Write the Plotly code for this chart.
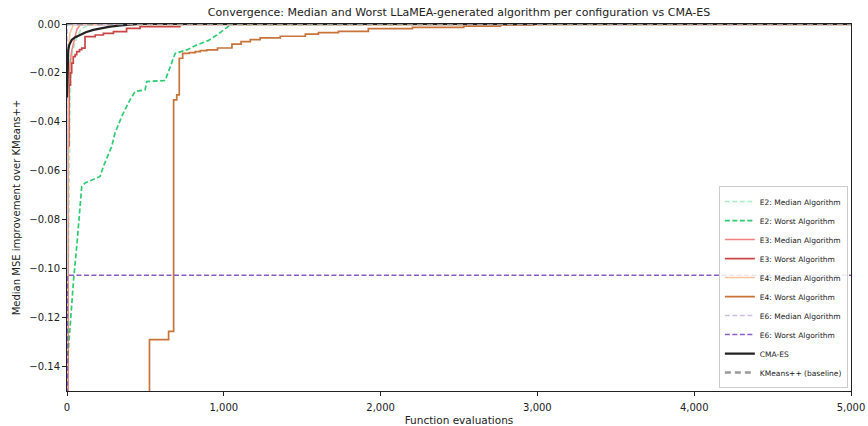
import plotly.graph_objects as go

# ---- data (function evaluations, median MSE improvement over KMeans++) ----
e2_med_x = [0, 5, 12, 20, 30, 45, 62, 90, 150, 5000]
e2_med_y = [-0.16, -0.135, -0.08, -0.03, -0.0133, -0.009, -0.0058, -0.002, 0.0, 0.0]

e2_worst_x = [0, 2, 10, 25, 42, 62, 80, 94, 115, 211, 232, 285, 306, 349, 402, 434, 498, 509,
              626, 658, 690, 764, 828, 900, 956, 1041, 5000]
e2_worst_y = [-0.16, -0.140, -0.132, -0.118, -0.1045, -0.091, -0.075, -0.0664, -0.065, -0.0623,
              -0.0582, -0.0501, -0.0446, -0.0378, -0.031, -0.0276, -0.0269, -0.0235,
              -0.0231, -0.0174, -0.012, -0.0106, -0.0086, -0.0068, -0.0045, -0.0004, 0.0]

e3_med_x = [0, 5, 12, 19, 30, 40, 51, 65, 83, 120, 5000]
e3_med_y = [-0.16, -0.06, -0.03, -0.016, -0.011, -0.008, -0.0052, -0.002, -0.0004, 0.0, 0.0]

e3_worst_x = [0, 5, 12, 22, 30, 40, 52, 62, 80, 94, 115, 180, 232, 296, 380, 466, 720]
e3_worst_y = [-0.16, -0.05, -0.025, -0.02, -0.016, -0.0133, -0.0125, -0.0113, -0.0105, -0.0099,
              -0.0052, -0.0045, -0.0038, -0.0031, -0.0018, -0.0011, -0.0008]

e4_med_x = [0, 3, 8, 19, 30, 40, 5000]
e4_med_y = [-0.16, -0.06, -0.012, -0.0038, -0.0015, -0.0004, -0.0004]

e4_worst_x = [0, 526, 648, 680, 700, 716, 738, 780, 818, 850, 892, 960, 1052, 1110, 1169, 1232,
              1360, 1520, 1603, 1731, 1922, 2203, 2530, 2765, 2976, 5000]
e4_worst_y = [-0.20, -0.129, -0.1256, -0.031, -0.029, -0.014, -0.012, -0.0117, -0.0113,
              -0.0109, -0.0106, -0.0098, -0.0082, -0.0072, -0.0064, -0.0057, -0.005, -0.0041,
              -0.0035, -0.003, -0.0019, -0.0014, -0.0009, -0.0005, -0.0001, -0.0001]

e6_med_x = [0, 2, 5000]
e6_med_y = [-0.20, -0.0002, 0.0]

e6_worst_x = [0, 1, 5000]
e6_worst_y = [-0.20, -0.1027, -0.1027]

cma_x = [0, 3, 8, 15, 30, 50, 83, 120, 168, 220, 275, 330, 381, 450, 5000]
cma_y = [-0.030, -0.018, -0.0106, -0.0085, -0.0065, -0.0055, -0.0045, -0.0034, -0.0024,
         -0.0017, -0.0011, -0.0007, -0.0004, 0.0, 0.0]

base_x = [0, 5000]
base_y = [0.0, 0.0]

x_ticks = [0, 1000, 2000, 3000, 4000, 5000]
y_ticks = [-0.14, -0.12, -0.10, -0.08, -0.06, -0.04, -0.02, 0.00]

FONT = "DejaVu Sans"
DASH = "5px,2.5px"

fig = go.Figure()

def add(name, x, y, color, dash="solid", width=1.6, shape="linear"):
    fig.add_trace(go.Scatter(x=x, y=y, mode="lines", name=name,
                             line=dict(color=color, dash=dash, width=width, shape=shape)))

add("E2: Median Algorithm", e2_med_x, e2_med_y, "#abebc6", dash=DASH, width=1.5)
add("E2: Worst Algorithm", e2_worst_x, e2_worst_y, "#2ecc71", dash=DASH, width=1.7)
add("E3: Median Algorithm", e3_med_x, e3_med_y, "#f1827e", width=1.5)
add("E3: Worst Algorithm", e3_worst_x, e3_worst_y, "#c94444", width=1.7, shape="hv")
add("E4: Median Algorithm", e4_med_x, e4_med_y, "#f8c39a", width=1.6)
add("E4: Worst Algorithm", e4_worst_x, e4_worst_y, "#c8733a", width=1.7, shape="hv")
add("E6: Median Algorithm", e6_med_x, e6_med_y, "#cfc0ea", dash=DASH, width=1.5, shape="hv")
add("E6: Worst Algorithm", e6_worst_x, e6_worst_y, "#8a5cc6", dash=DASH, width=1.6, shape="hv")
add("CMA-ES", cma_x, cma_y, "#222222", width=2.2)
add("KMeans++ (baseline)", base_x, base_y, "#999999", dash="6px,4px", width=2.6)

axis_common = dict(showgrid=False, zeroline=False, showline=True, linecolor="#222",
                   linewidth=1, mirror=True, ticks="outside", ticklen=4, tickcolor="#222",
                   automargin=False,
                   tickfont=dict(family=FONT, size=10, color="#222"))

fig.update_layout(
    width=868, height=426,
    margin=dict(l=67, r=17, t=24, b=35),
    paper_bgcolor="white", plot_bgcolor="white",
    font=dict(family=FONT, size=10, color="#222"),
    title=dict(text="Convergence: Median and Worst LLaMEA-generated algorithm per configuration vs CMA-ES",
               x=(67 + 851) / 2 / 868, xanchor="center", y=1 - 12 / 426, yanchor="middle",
               font=dict(family=FONT, size=11, color="#222")),
    xaxis=dict(range=[0, 5000], tickvals=x_ticks, tickformat=",", ticklabelstandoff=3,
               title=dict(text="Function evaluations", standoff=4,
                          font=dict(family=FONT, size=10.5, color="#222")),
               **axis_common),
    yaxis=dict(range=[-0.15, 0.0], tickvals=y_ticks, tickformat=".2f",
               title=dict(text="Median MSE improvement over KMeans++", standoff=6,
                          font=dict(family=FONT, size=10, color="#222")),
               **axis_common),
    legend=dict(x=0.996, y=0.008, xanchor="right", yanchor="bottom",
                font=dict(family=FONT, size=7.5, color="#222"),
                bgcolor="rgba(255,255,255,0.85)", bordercolor="#cccccc", borderwidth=1,
                tracegroupgap=0, itemwidth=30),
)

fig.write_html("out.html")
